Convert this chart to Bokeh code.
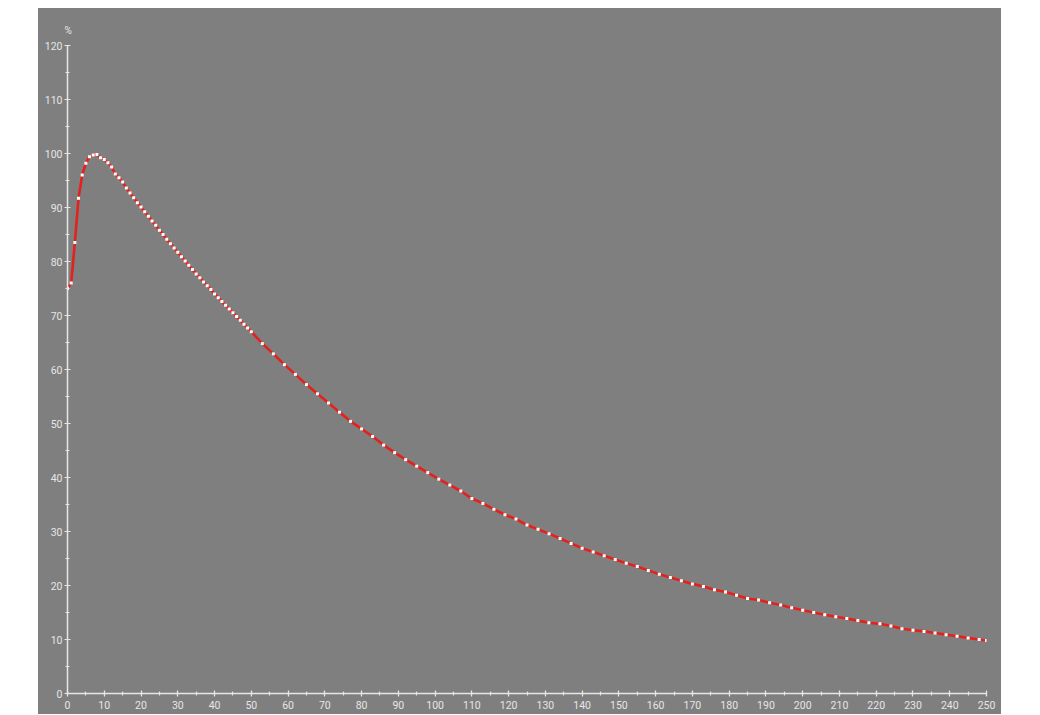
from bokeh.plotting import figure
from bokeh.embed import file_html
from bokeh.resources import INLINE
from bokeh.models import Range1d, SingleIntervalTicker, Title, ColumnDataSource

# --- data ---
days = [0, 1, 2, 3, 4, 5, 6, 7, 8, 9, 10, 11, 12, 13, 14, 15, 16, 17, 18, 19,
        20, 21, 22, 23, 24, 25, 26, 27, 28, 29, 30, 31, 32, 33, 34, 35, 36, 37, 38, 39,
        40, 41, 42, 43, 44, 45, 46, 47, 48, 49, 50,
        53, 56, 59, 62, 65, 68, 71, 74, 77, 80, 83, 86, 89, 92, 95, 98, 101, 104, 107, 110,
        113, 116, 119, 122, 125, 128, 131, 134, 137, 140, 143, 146, 149, 152, 155, 158, 161, 164, 167, 170,
        173, 176, 179, 182, 185, 188, 191, 194, 197, 200, 203, 206, 209, 212, 215, 218, 221, 224, 227, 230,
        233, 236, 239, 242, 245, 248, 250]
pct = [75.0, 76.0, 83.5, 91.7, 96.0, 98.2, 99.4, 99.7, 99.8, 99.2, 98.9, 98.3, 97.5, 96.2, 95.5, 94.7, 93.6, 92.7, 91.8, 90.9,
       90.1, 89.2, 88.4, 87.5, 86.7, 85.8, 85.0, 84.1, 83.3, 82.5, 81.7, 80.9, 80.1, 79.3, 78.5, 77.7, 77.0, 76.2, 75.5, 74.8,
       74.0, 73.3, 72.6, 71.9, 71.2, 70.5, 69.8, 69.1, 68.4, 67.7, 67.0,
       64.8, 62.9, 60.9, 59.1, 57.2, 55.5, 53.8, 52.1, 50.4, 49.0, 47.6, 46.0, 44.6, 43.3, 42.1, 40.9, 39.7, 38.6, 37.5, 36.1,
       35.2, 34.1, 33.1, 32.3, 31.2, 30.4, 29.6, 28.7, 27.8, 26.9, 26.2, 25.5, 24.8, 24.1, 23.5, 22.8, 22.1, 21.5, 20.9, 20.3,
       19.8, 19.2, 18.8, 18.2, 17.6, 17.3, 16.8, 16.4, 15.9, 15.4, 15.0, 14.6, 14.2, 13.9, 13.5, 13.1, 12.9, 12.5, 12.0, 11.7,
       11.5, 11.2, 10.9, 10.6, 10.3, 10.0, 9.8]
y_unit = "%"

src = ColumnDataSource(data=dict(day=days, pct=pct))

BG = "#7f7f7f"
AX = "#e6e6e6"
FONT = "Roboto"

p = figure(width=963, height=706, output_backend="svg", toolbar_location=None,
           x_range=Range1d(0, 250), y_range=Range1d(0, 120),
           min_border_left=29, min_border_right=15, min_border_top=37, min_border_bottom=21,
           background_fill_color=BG, border_fill_color=BG,
           outline_line_color=None,
           margin=(8, 0, 0, 38),
           styles={"background-color": BG})

p.grid.visible = False

for ax in (p.xaxis[0], p.yaxis[0]):
    ax.ticker = SingleIntervalTicker(interval=10, num_minor_ticks=2)
    ax.axis_line_color = AX
    ax.axis_line_width = 1.5
    ax.major_tick_line_color = AX
    ax.minor_tick_line_color = AX
    ax.major_tick_in = 3
    ax.major_tick_out = 3
    ax.minor_tick_in = 2
    ax.minor_tick_out = 2
    ax.major_tick_line_width = 1.2
    ax.minor_tick_line_width = 1.2
    ax.major_label_text_color = AX
    ax.major_label_text_font = FONT
    ax.major_label_text_font_size = "10.5px"
    ax.major_label_standoff = 2
p.xaxis[0].major_label_standoff = 4

p.line("day", "pct", source=src, line_color="#e4211c", line_width=2.6)
p.scatter("day", "pct", source=src, marker="square", size=3,
          fill_color="#ffffff", line_color=None)

p.add_layout(Title(text=y_unit, align="left", offset=-3, text_color=AX,
                   text_font=FONT, text_font_size="10px", text_font_style="normal",
                   standoff=19), "above")

open("out.html", "w").write(file_html(p, INLINE))
